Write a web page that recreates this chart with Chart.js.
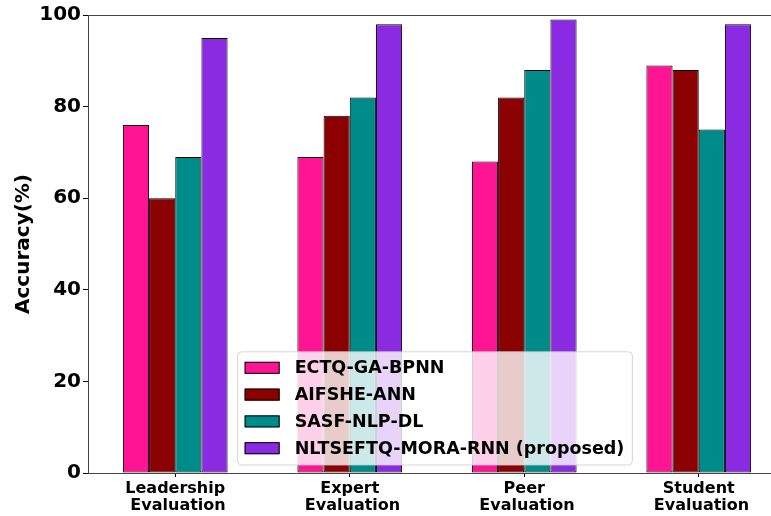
<!DOCTYPE html>
<html>
<head>
<meta charset="utf-8">
<script src="https://cdn.jsdelivr.net/npm/chart.js@4.4.0/dist/chart.umd.min.js"></script>
<style>
  html, body { margin: 0; padding: 0; background: #fff; overflow: hidden; }
  #wrap { width: 790px; height: 516px; }
</style>
</head>
<body>
<div id="wrap"><canvas id="accChart" width="790" height="516"></canvas></div>
<script>
const categories = [['Leadership', ' Evaluation'], ['Expert', ' Evaluation'], ['Peer', ' Evaluation'], ['Student', ' Evaluation']];
const seriesNames = ['ECTQ-GA-BPNN', 'AIFSHE-ANN', 'SASF-NLP-DL', 'NLTSEFTQ-MORA-RNN (proposed)'];
const ectq = [76, 69, 68, 89];
const aifshe = [60, 78, 82, 88];
const sasf = [69, 82, 88, 75];
const nltseftq = [95, 98, 99, 98];
const yTicks = [0, 20, 40, 60, 80, 100];

const colors = ['#ff1493', '#8b0000', '#008b8b', '#8a2be2'];
const fontFam = '"DejaVu Sans", sans-serif';

// frame + legend inside the plot (lower center, like matplotlib)
const framePlugin = {
    id: 'frame',
    afterDraw(chart) {
        const ctx = chart.ctx;
        const a = chart.chartArea;
        ctx.save();
        ctx.strokeStyle = '#444';
        ctx.lineWidth = 1;
        ctx.strokeRect(a.left + 0.5, a.top + 0.5, a.right - a.left, a.bottom - a.top);

        ctx.font = 'bold 17.5px ' + fontFam;
        let maxW = 0;
        seriesNames.forEach(n => { maxW = Math.max(maxW, ctx.measureText(n).width); });
        const rowH = 26.8;
        const boxW = 7 + 35 + 15 + maxW + 8;
        const boxH = rowH * seriesNames.length + 6;
        const bx = (a.left + a.right) / 2 - boxW / 2 - 2;
        const by = a.bottom - 8 - boxH;
        ctx.fillStyle = 'rgba(255,255,255,0.8)';
        ctx.strokeStyle = 'rgba(204,204,204,0.8)';
        ctx.beginPath();
        ctx.roundRect(bx, by, boxW, boxH, 4);
        ctx.fill();
        ctx.stroke();
        seriesNames.forEach((n, i) => {
            const cy = by + 16 + i * rowH;
            ctx.fillStyle = colors[i];
            ctx.fillRect(bx + 7, cy - 6, 35, 12);
            ctx.strokeStyle = '#000';
            ctx.lineWidth = 1;
            ctx.strokeRect(bx + 7.5, cy - 5.5, 34, 11);
            ctx.fillStyle = '#000';
            ctx.textBaseline = 'middle';
            ctx.textAlign = 'left';
            ctx.fillText(n, bx + 57, cy + 1);
        });
        ctx.restore();
    }
};

const ctx = document.getElementById('accChart').getContext('2d');
const chart = new Chart(ctx, {
    type: 'bar',
    data: {
        labels: categories,
        datasets: [ectq, aifshe, sasf, nltseftq].map((d, i) => ({
            label: seriesNames[i],
            data: d,
            backgroundColor: colors[i],
            borderColor: '#000',
            borderWidth: 1,
            borderSkipped: false,
            categoryPercentage: 0.6,
            barPercentage: 1.0
        }))
    },
    options: {
        responsive: false,
        animation: false,
        layout: { padding: { top: 15, right: 4, left: 0, bottom: 0 } },
        plugins: {
            legend: { display: false },
            tooltip: { enabled: false }
        },
        scales: {
            x: {
                grid: { display: true, offset: false, drawOnChartArea: false, tickLength: 4, color: '#000' },
                border: { display: false },
                ticks: {
                    color: '#000',
                    font: { family: fontFam, size: 16, weight: 'bold', lineHeight: 1.08 },
                    padding: 3,
                    maxRotation: 0
                },
                afterFit(scale) { scale.height = 43; }
            },
            y: {
                min: 0,
                max: 100,
                afterBuildTicks(scale) { scale.ticks = yTicks.map(v => ({ value: v })); },
                grid: { display: true, drawOnChartArea: false, tickLength: 5, color: '#000' },
                border: { display: false },
                ticks: {
                    color: '#000',
                    font: { family: fontFam, size: 20, weight: 'bold' },
                    padding: 2
                },
                title: {
                    display: true,
                    text: 'Accuracy(%)',
                    color: '#000',
                    font: { family: fontFam, size: 20, weight: 'bold' },
                    padding: { top: 12, bottom: 0 }
                },
                afterFit(scale) { scale.width = 88; }
            }
        }
    },
    plugins: [framePlugin]
});
</script>
</body>
</html>
